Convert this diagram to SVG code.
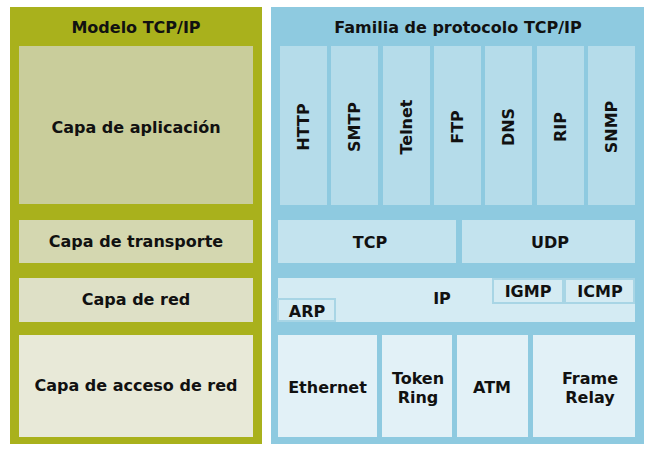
<svg xmlns="http://www.w3.org/2000/svg" width="650" height="450" viewBox="0 0 650 450">
<style>
text{font-family:"DejaVu Sans","Liberation Sans",sans-serif;font-weight:bold;font-size:16px;fill:#111;text-anchor:middle;dominant-baseline:central}
.olive{fill:#A9B11C}
.blue{fill:#8ECAE0}
.app{fill:#C9CD9B}
.tr{fill:#D4D7B0}
.red{fill:#DEE0C6}
.acc{fill:#E8E9D8}
.col{fill:#B5DCEA}
.tu{fill:#C3E3EE}
.ip{fill:#D4EBF3}
.sub{fill:#D4EBF3;stroke:#A8D5E5;stroke-width:2}
.bot{fill:#E2F1F7}
</style>
<rect width="650" height="450" fill="#fff"/>
<g id="modelo">
<rect class="olive" x="10" y="7" width="252" height="437"/>
<text x="136" y="27">Modelo TCP/IP</text>
</g>
<g id="aplicacion"><rect class="app" x="19" y="46" width="234" height="158"/><text x="136" y="127">Capa de aplicación</text></g>
<g id="transporte"><rect class="tr" x="19" y="220" width="234" height="43"/><text x="136" y="241">Capa de transporte</text></g>
<g id="red"><rect class="red" x="19" y="278" width="234" height="44"/><text x="136" y="299">Capa de red</text></g>
<g id="acceso"><rect class="acc" x="19" y="335" width="234" height="102"/><text x="136" y="385">Capa de acceso de red</text></g>

<g id="familia">
<rect class="blue" x="271" y="7" width="373" height="437"/>
<text x="458" y="27">Familia de protocolo TCP/IP</text>
</g>
<g id="http"><rect class="col" x="280" y="46" width="47" height="159"/><text transform="translate(303.5,127) rotate(-90)">HTTP</text></g>
<g id="smtp"><rect class="col" x="331" y="46" width="47" height="159"/><text transform="translate(354.5,127) rotate(-90)">SMTP</text></g>
<g id="telnet"><rect class="col" x="383" y="46" width="47" height="159"/><text transform="translate(406.5,127) rotate(-90)">Telnet</text></g>
<g id="ftp"><rect class="col" x="434" y="46" width="47" height="159"/><text transform="translate(457.5,127) rotate(-90)">FTP</text></g>
<g id="dns"><rect class="col" x="485" y="46" width="47" height="159"/><text transform="translate(508.5,127) rotate(-90)">DNS</text></g>
<g id="rip"><rect class="col" x="537" y="46" width="47" height="159"/><text transform="translate(560.5,127) rotate(-90)">RIP</text></g>
<g id="snmp"><rect class="col" x="588" y="46" width="47" height="159"/><text transform="translate(611.5,127) rotate(-90)">SNMP</text></g>

<g id="tcp"><rect class="tu" x="278" y="220" width="178" height="43"/><text x="370" y="242">TCP</text></g>
<g id="udp"><rect class="tu" x="462" y="220" width="173" height="43"/><text x="550" y="242">UDP</text></g>

<g id="ip"><rect class="ip" x="278" y="278" width="357" height="44"/><text x="442" y="298">IP</text></g>
<g id="igmp"><rect class="sub" x="493" y="279" width="70" height="24"/><text x="528" y="291">IGMP</text></g>
<g id="icmp"><rect class="sub" x="565" y="279" width="69" height="24"/><text x="600" y="291">ICMP</text></g>
<g id="arp"><rect class="sub" x="278" y="299" width="57" height="22"/><text x="307" y="311">ARP</text></g>

<g id="ethernet"><rect class="bot" x="278" y="335" width="99" height="102"/><text x="327.5" y="387">Ethernet</text></g>
<g id="tokenring"><rect class="bot" x="382" y="335" width="70" height="102"/><text x="418" y="378">Token</text><text x="418" y="397">Ring</text></g>
<g id="atm"><rect class="bot" x="457" y="335" width="71" height="102"/><text x="492" y="387">ATM</text></g>
<g id="framerelay"><rect class="bot" x="533" y="335" width="102" height="102"/><text x="590" y="378">Frame</text><text x="590" y="397">Relay</text></g>
<g id="connectors"></g>
</svg>
